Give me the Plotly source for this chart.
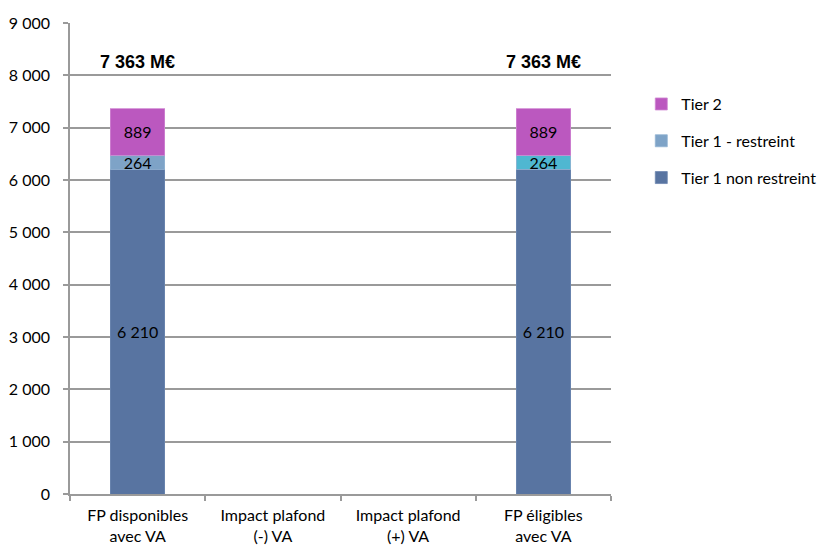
import plotly.graph_objects as go

# Catégories de l'axe des abscisses
categories = [
    "FP disponibles<br>avec VA",
    "Impact plafond<br>(-) VA",
    "Impact plafond<br>(+) VA",
    "FP éligibles<br>avec VA",
]

# Montants par tier (M€) ; None pour les colonnes sans barre
tier1_non_restreint = [6210, None, None, 6210]
tier1_restreint = [264, None, None, 264]
tier2 = [889, None, None, 889]

# Totaux affichés au-dessus des colonnes pleines
totals = [
    (a + b + c) if a is not None else None
    for a, b, c in zip(tier1_non_restreint, tier1_restreint, tier2)
]

y_ticks = [0, 1000, 2000, 3000, 4000, 5000, 6000, 7000, 8000, 9000]

FONT = "Lato, 'Open Sans', sans-serif"
GRID = "#9a9a9a"

fig = go.Figure()

fig.add_trace(go.Bar(
    x=categories, y=tier1_non_restreint, name="Tier 1 non restreint",
    marker=dict(color="#5874a1", line=dict(color="#6d87b0", width=0.8)),
    texttemplate="%{y:,}", textposition="inside", insidetextanchor="middle",
    textfont=dict(color="black", size=16, family=FONT),
    legendgroup="g1", legendrank=3, cliponaxis=False,
))
fig.add_trace(go.Bar(
    x=categories, y=tier1_restreint, name="Tier 1 - restreint",
    marker=dict(color=["#7ea3c7", "#7ea3c7", "#7ea3c7", "#4fb7d1"],
                line=dict(color="#93b4d3", width=0.8)),
    texttemplate="%{y:,}", textposition="inside", insidetextanchor="middle",
    textfont=dict(color="black", size=16, family=FONT),
    constraintext="none", legendgroup="g2", legendrank=2, cliponaxis=False,
))
fig.add_trace(go.Bar(
    x=categories, y=tier2, name="Tier 2",
    marker=dict(color="#bb58bf", line=dict(color="#cf86d2", width=0.8)),
    texttemplate="%{y:,}", textposition="inside", insidetextanchor="middle",
    textfont=dict(color="black", size=16, family=FONT),
    legendgroup="g3", legendrank=1, cliponaxis=False,
))

# Libellés de total en gras
for cat, tot in zip(categories, totals):
    if tot is None:
        continue
    fig.add_annotation(
        x=cat, y=tot + 900, xref="x", yref="y",
        text="<b>" + f"{tot:,}".replace(",", " ") + " M€</b>",
        showarrow=False, yanchor="middle",
        font=dict(family="'Liberation Sans', Arial, sans-serif", size=18, color="black"),
    )

fig.update_layout(
    width=819, height=549,
    margin=dict(l=70, r=208, t=23, b=55, autoexpand=False),
    paper_bgcolor="white", plot_bgcolor="white",
    barmode="stack", bargap=0.597,
    separators=", ",
    font=dict(family=FONT, size=16, color="black"),
    uniformtext=dict(mode="show", minsize=10),
    legend=dict(
        x=1.056, xanchor="left", y=0.864, yanchor="top",
        traceorder="grouped", tracegroupgap=13,
        font=dict(family=FONT, size=16, color="black"),
        itemwidth=30, bgcolor="rgba(0,0,0,0)",
    ),
    showlegend=True,
)

fig.update_xaxes(
    showline=True, linecolor=GRID, linewidth=1.5,
    ticks="outside", tickson="boundaries", ticklen=5, tickcolor=GRID, tickwidth=1.5,
    showgrid=False, tickfont=dict(family=FONT, size=16, color="black"),
    ticklabelstandoff=6,
)
fig.update_yaxes(
    range=[0, 9000], tickvals=y_ticks, tickformat=",d",
    showline=True, linecolor=GRID, linewidth=1.5,
    showgrid=True, gridcolor=GRID, gridwidth=1.5,
    ticks="outside", ticklen=5, tickcolor=GRID, tickwidth=1.5,
    zeroline=False, tickfont=dict(family=FONT, size=16, color="black"),
    ticklabelstandoff=10,
)

fig.write_html("out.html")
